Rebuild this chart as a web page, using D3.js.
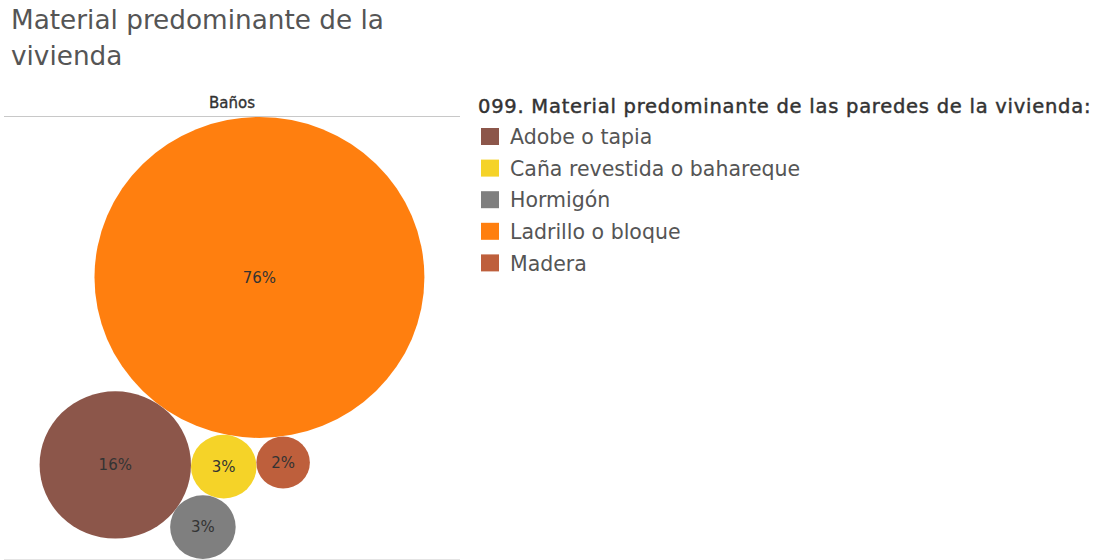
<!DOCTYPE html>
<html>
<head>
<meta charset="utf-8">
<title>Material predominante de la vivienda</title>
<script src="https://cdn.jsdelivr.net/npm/d3@7"></script>
<style>
  html, body { margin: 0; padding: 0; background: #fff; }
  svg { display: block; font-family: "DejaVu Sans", "Open Sans", sans-serif; }
</style>
</head>
<body>
<svg id="chart" width="1094" height="560"></svg>
<script>
// Material predominante de las paredes (bubble chart, panel "Baños")

// --- Data ---
const categories = ["Adobe o tapia", "Caña revestida o bahareque", "Hormigón", "Ladrillo o bloque", "Madera"];
const shares = [16, 3, 3, 76, 2];            // percent
const colors = ["#8c564a", "#f5d328", "#7f7f7f", "#ff7f0f", "#be5f3c"];
const titleLines = ["Material predominante de la", "vivienda"];
const panelHeader = "Baños";
const legendTitle = "099. Material predominante de las paredes de la vivienda:";

// draw order of the bubbles (largest first, like Tableau)
const packOrder = [3, 0, 1, 2, 4];

(function () {
  "use strict";

  const svg = d3.select("#chart");
  const panel = { x0: 4, x1: 460, y0: 117, y1: 559 };
  const stretchX = 1.028;   // Tableau pane is a touch wider than tall

  const r = d3.scaleSqrt().domain([0, d3.max(shares)]).range([0, 1]);
  const nodes = categories.map((c, i) => ({ cat: c, value: shares[i], color: colors[i], r: r(shares[i]) }));

  // centre of a circle of radius rc touching both a and b; side picks which of the two spots
  function touching(a, b, rc, side) {
    const da = a.r + rc, db = b.r + rc;
    const dx = b.x - a.x, dy = b.y - a.y, d = Math.hypot(dx, dy);
    const t = (da * da - db * db + d * d) / (2 * d);
    const h = Math.sqrt(Math.max(0, da * da - t * t));
    return { x: a.x + (t * dx - side * h * dy) / d, y: a.y + (t * dy + side * h * dx) / d };
  }

  const big = nodes[3], adobe = nodes[0], cana = nodes[1], horm = nodes[2], mad = nodes[4];
  big.x = 0; big.y = 0;
  const ang = 126.8 * Math.PI / 180;
  adobe.x = Math.cos(ang) * (big.r + adobe.r);
  adobe.y = Math.sin(ang) * (big.r + adobe.r);
  Object.assign(cana, touching(big, adobe, cana.r, -1));
  Object.assign(horm, touching(adobe, cana, horm.r, 1));
  Object.assign(mad, touching(big, cana, mad.r, -1));

  // fit the packed group into the panel
  const bx0 = d3.min(nodes, d => d.x - d.r), bx1 = d3.max(nodes, d => d.x + d.r);
  const by0 = d3.min(nodes, d => d.y - d.r), by1 = d3.max(nodes, d => d.y + d.r);
  const k = Math.min((panel.y1 - panel.y0) / (by1 - by0),
                     (panel.x1 - panel.x0) / ((bx1 - bx0) * stretchX));
  const cx = (panel.x0 + panel.x1) / 2, cy = (panel.y0 + panel.y1) / 2;
  const mx = (bx0 + bx1) / 2, my = (by0 + by1) / 2;
  const px = d => cx + (d.x - mx) * k * stretchX;
  const py = d => cy + (d.y - my) * k;

  // --- Title ---
  svg.append("g").selectAll("text").data(titleLines).join("text")
    .attr("x", 11).attr("y", (d, i) => 29 + i * 36)
    .attr("font-size", 26.3).attr("fill", "#555")
    .text(d => d);

  // --- Panel header and rules ---
  svg.append("text")
    .attr("x", cx).attr("y", 108).attr("text-anchor", "middle")
    .attr("font-size", 15).attr("fill", "#333")
    .attr("stroke", "#333").attr("stroke-width", 0.35)
    .text(panelHeader);
  svg.append("line")
    .attr("x1", panel.x0).attr("x2", panel.x1).attr("y1", 116.5).attr("y2", 116.5)
    .attr("stroke", "#c8c8c8");
  svg.append("line")
    .attr("x1", panel.x0).attr("x2", panel.x1).attr("y1", 559.5).attr("y2", 559.5)
    .attr("stroke", "#e4e4e4");

  // --- Bubbles ---
  const bub = svg.append("g").selectAll("g").data(packOrder.map(i => nodes[i])).join("g");
  bub.append("ellipse")
    .attr("cx", px).attr("cy", py)
    .attr("rx", d => d.r * k * stretchX).attr("ry", d => d.r * k)
    .attr("fill", d => d.color);
  bub.append("text")
    .attr("x", px).attr("y", py).attr("dy", "0.35em")
    .attr("text-anchor", "middle").attr("font-size", 15).attr("fill", "#333")
    .text(d => d.value + "%");

  // --- Legend ---
  const leg = svg.append("g").attr("transform", "translate(478,0)");
  leg.append("text")
    .attr("x", 0).attr("y", 113)
    .attr("font-size", 19.5).attr("letter-spacing", 0.75).attr("fill", "#333")
    .attr("stroke", "#333").attr("stroke-width", 0.45)
    .text(legendTitle);
  const item = leg.selectAll("g.item").data(nodes).join("g")
    .attr("class", "item")
    .attr("transform", (d, i) => `translate(0,${137 + i * 31.6})`);
  item.append("rect")
    .attr("x", 3).attr("y", -9).attr("width", 18).attr("height", 17)
    .attr("fill", d => d.color);
  item.append("text")
    .attr("x", 32).attr("y", 0).attr("dy", "0.35em")
    .attr("font-size", 20.5).attr("fill", "#555")
    .text(d => d.cat);
})();
</script>
</body>
</html>
